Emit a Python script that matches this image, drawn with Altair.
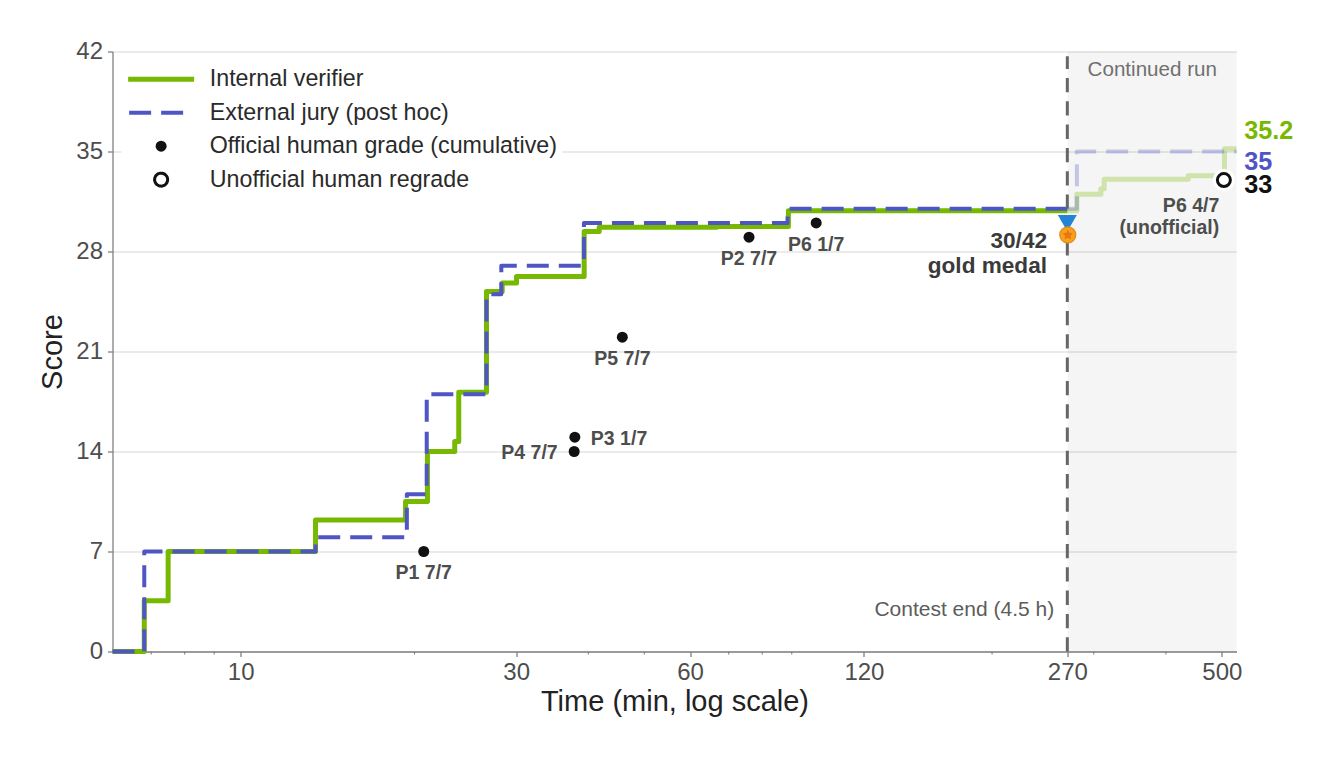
import altair as alt
import pandas as pd

FONT = "Liberation Sans"
GREEN = "#76b900"
BLUE = "#5055c4"

# Internal verifier
green_t = [6, 6.81, 7.49, 13.48, 19.3, 21.06, 23.48, 23.86, 26.65, 28.37, 30.04, 39.34, 41.76, 66.7, 88.8, 270]
green_s = [0, 3.55, 7, 9.2, 10.5, 14, 14.7, 18.15, 25.2, 25.8, 26.25, 29.4, 29.7, 29.75, 30.85, 30.85]
green_cont_t = [270, 280.5, 308.7, 312.8, 437.3, 505.2, 530]
green_cont_s = [30.85, 32, 32.4, 33.05, 33.3, 35.2, 35.2]
# External jury
blue_t = [6, 6.81, 13.48, 19.4, 21.0, 26.65, 28.27, 39.3, 88.5, 270]
blue_s = [0, 7, 8, 11, 18, 25, 27, 30, 31, 31]
blue_cont_t = [270, 280.5, 530]
blue_cont_s = [31, 35, 35]
# Human grades
official_t = [20.75, 37.9, 37.8, 45.8, 75.9, 99.2]
official_s = [7, 15, 14, 22, 29, 30]
unofficial_t = [504]
unofficial_s = [33]
# Axes
x_major = [10, 30, 60, 120, 270, 500]
x_minor = [7, 8, 9, 20, 40, 50, 70, 80, 90, 200, 300, 400]
y_ticks = [0, 7, 14, 21, 28, 35, 42]
# Annotations
center_labels = ["P1 7/7", "P5 7/7", "P2 7/7", "P6 1/7"]
center_t = [20.75, 45.8, 75.9, 99.2]
center_s = [5.6, 20.56, 27.55, 28.57]
left_labels = ["P3 1/7"]
left_t = [40.4]
left_s = [14.97]
right_labels = ["P4 7/7", "P6 4/7", "(unofficial)"]
right_t = [35.4, 494.8, 494.8]
right_s = [13.99, 31.26, 29.72]
legend_names = ["Internal verifier", "External jury (post hoc)", "Official human grade (cumulative)", "Unofficial human regrade"]

xs = alt.Scale(type="log", base=10, domain=[6, 530], nice=False)
ys = alt.Scale(domain=[0, 42], nice=False)
x_axis = alt.Axis(
    values=x_major, format="d", grid=False, tickSize=5, tickColor="#808080", tickWidth=1.3,
    domainColor="#808080", domainWidth=1.3, labelFontSize=24, labelColor="#4d4d4d", labelPadding=4,
    labelFont=FONT, titleFont=FONT, titleFontSize=29, titleFontWeight="normal", titleColor="#222222",
    titlePadding=3, labelFlush=False, labelOverlap=False)
y_axis = alt.Axis(
    values=y_ticks, grid=True, gridColor="#e5e5e5", gridWidth=1.3, tickSize=5, tickColor="#808080", tickWidth=1.3,
    domainColor="#808080", domainWidth=1.3, labelFontSize=24, labelColor="#4d4d4d", labelPadding=5,
    labelFont=FONT, titleFont=FONT, titleFontSize=29, titleFontWeight="normal", titleColor="#222222",
    titlePadding=8)


def X(f="t"):
    return alt.X(f"{f}:Q", scale=xs, axis=x_axis, title="Time (min, log scale)")


def Y(f="s"):
    return alt.Y(f"{f}:Q", scale=ys, axis=y_axis, title="Score")


def df(t, s):
    return pd.DataFrame({"t": t, "s": s})


span = alt.Chart(pd.DataFrame({"t": [270], "t2": [530]})).mark_rect(color="#000000", opacity=0.04).encode(
    x=X(), x2="t2:Q", y=alt.value(0), y2=alt.value(600))

minor = alt.Chart(pd.DataFrame({"t": x_minor})).mark_rule(color="#808080", strokeWidth=1.1).encode(
    x=X(), y=alt.value(600), y2=alt.value(603))


def step(t, s, color, width, dash=None, opacity=1):
    kw = dict(interpolate="step-after", color=color, strokeWidth=width, opacity=opacity, strokeJoin="round")
    if dash:
        kw["strokeDash"] = dash
    return alt.Chart(df(t, s)).mark_line(**kw).encode(x=X(), y=Y())


end_rule = alt.Chart(pd.DataFrame({"t": [270], "s": [0], "s2": [41.67]})).mark_rule(
    color="#666666", strokeWidth=3, strokeDash=[14.3, 9]).encode(x=X(), y=Y(), y2="s2:Q")

lines = [
    step(green_cont_t, green_cont_s, GREEN, 5, opacity=0.3),
    step(blue_cont_t, blue_cont_s, BLUE, 4, dash=[22, 10], opacity=0.3),
    step(green_t, green_s, GREEN, 5),
    step(blue_t, blue_s, BLUE, 4, dash=[22, 10]),
]

official = alt.Chart(df(official_t, official_s)).mark_point(filled=True, color="#111111", size=121, opacity=1).encode(x=X(), y=Y())
halo = alt.Chart(df(unofficial_t, unofficial_s)).mark_point(filled=True, color="#ffffff", size=484, opacity=1).encode(x=X(), y=Y())
ring = alt.Chart(df(unofficial_t, unofficial_s)).mark_point(filled=True, fill="#ffffff", stroke="#111111", strokeWidth=3, size=169, opacity=1).encode(x=X(), y=Y())

ribbon = alt.Chart(df([270], [29.98])).mark_point(shape="triangle-down", filled=True, color="#2583d6", size=361, opacity=1).encode(x=X(), y=Y())
medal = alt.Chart(df([270.5], [29.16])).mark_point(shape="circle", filled=True, fill="#f8a01f", stroke="#e68a10", strokeWidth=1.2, size=256, opacity=1).encode(x=X(), y=Y())
star = alt.Chart(df([270.5], [29.16])).mark_point(
    shape="M0,-1L0.29,-0.4L0.95,-0.31L0.48,0.15L0.59,0.81L0,0.5L-0.59,0.81L-0.48,0.15L-0.95,-0.31L-0.29,-0.4Z",
    filled=True, color="#e8780c", size=120, opacity=1).encode(x=X(), y=Y())


def text(labels, t, s, align, size, color, weight="normal", dy=0):
    d = pd.DataFrame({"t": t, "s": s, "label": labels})
    return alt.Chart(d).mark_text(align=align, baseline="middle", font=FONT, fontSize=size, color=color,
                                  fontWeight=weight, clip=False, dy=dy).encode(x=X(), y=Y(), text="label:N")


texts = [
    text(center_labels, center_t, center_s, "center", 19.5, "#4d4d4d", "bold", 1.5),
    text(left_labels, left_t, left_s, "left", 19.5, "#4d4d4d", "bold", 1.5),
    text(right_labels, right_t, right_s, "right", 19.5, "#4d4d4d", "bold", 1.5),
    text(["30/42", "gold medal"], [249, 249], [28.78, 27.03], "right", 22.6, "#3a3a3a", "bold", 1),
    text(["Contest end (4.5 h)"], [256.2], [3.0], "right", 21, "#5c5c5c", "normal", 1.5),
    text(["Continued run"], [378.8], [40.77], "center", 20.6, "#707070", "normal", 0.5),
    text(["35.2"], [546.7], [36.5], "left", 25.2, GREEN, "bold", 0.5),
    text(["35"], [546.7], [34.27], "left", 25.2, BLUE, "bold", 0.5),
    text(["33"], [546.7], [32.66], "left", 25.2, "#111111", "bold", 0.5),
]

lg = alt.Legend(title=None, orient="none", legendX=9, legendY=11, fillColor="#ffffff", padding=5,
                labelFont=FONT, labelFontSize=23.25, labelColor="#2a2a2a", labelOffset=37, rowPadding=9.5,
                symbolOffset=23, symbolOpacity=1, labelLimit=500)


def leg_scale(values):
    return alt.Scale(type="ordinal", domain=legend_names, range=values)


legend = alt.Chart(pd.DataFrame({"name": legend_names, "t": [10] * 4, "s": [10] * 4})).transform_filter("false").mark_point(filled=False).encode(
    x=X(), y=Y(),
    shape=alt.Shape("name:N", scale=alt.Scale(domain=legend_names, range=["M-6,0H6", "M-5.818,0H5.818", "circle", "circle"]), legend=lg, sort=legend_names),
    stroke=alt.Stroke("name:N", scale=alt.Scale(domain=legend_names, range=[GREEN, BLUE, "#111111", "#111111"]), legend=lg, sort=legend_names),
    fill=alt.Fill("name:N", scale=alt.Scale(domain=legend_names, range=["#ffffff", "#ffffff", "#111111", "#ffffff"]), legend=lg, sort=legend_names),
    size=alt.Size("name:N", scale=leg_scale([121, 121, 121, 169]), legend=lg, sort=legend_names),
    strokeWidth=alt.StrokeWidth("name:N", scale=leg_scale([5, 4, 0.01, 3]), legend=lg, sort=legend_names),
    strokeDash=alt.StrokeDash("name:N", scale=alt.Scale(domain=legend_names, range=[[1, 0], [22, 10], [1, 0], [1, 0]]), legend=lg, sort=legend_names),
)

chart = alt.layer(
    span, minor, *lines, end_rule, official, halo, ring, ribbon, medal, star, *texts, legend
).properties(
    width=1124, height=600, padding={"left": 30.5, "top": 31.5, "right": 5, "bottom": 5}, background="#ffffff"
).configure_view(stroke=None)

chart.save("out.html", embed_options={"renderer": "svg", "actions": False})
